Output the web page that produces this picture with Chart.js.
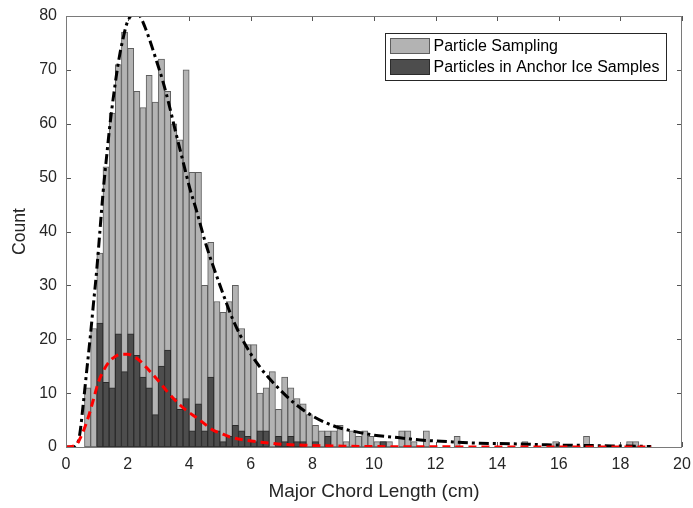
<!DOCTYPE html>
<html>
<head>
<meta charset="utf-8">
<script src="https://cdn.jsdelivr.net/npm/chart.js@4.4.1/dist/chart.umd.min.js"></script>
<style>
  html, body { margin: 0; padding: 0; background: #fff; }
  #wrap { width: 693px; height: 508px; }
</style>
</head>
<body>
<div id="wrap"><canvas id="histChart" width="693" height="508"></canvas></div>
<script>
// histogram bins (centres, cm) and counts
const binCenters = [
  0.7, 0.9, 1.1, 1.3, 1.5, 1.7, 1.9, 2.1, 2.3, 2.5,
  2.7, 2.9, 3.1, 3.3, 3.5, 3.7, 3.9, 4.1, 4.3, 4.5,
  4.7, 4.9, 5.1, 5.3, 5.5, 5.7, 5.9, 6.1, 6.3, 6.5,
  6.7, 6.9, 7.1, 7.3, 7.5, 7.7, 7.9, 8.1, 8.3, 8.5,
  8.7, 8.9, 9.1, 9.3, 9.5, 9.7, 9.9, 10.1, 10.3, 10.5,
  10.7, 10.9, 11.1, 11.3, 11.5, 11.7, 11.9, 12.1, 12.3, 12.5,
  12.7, 12.9, 13.1, 13.3, 13.5, 13.7, 13.9, 14.1, 14.3, 14.5,
  14.7, 14.9, 15.1, 15.3, 15.5, 15.7, 15.9, 16.1, 16.3, 16.5,
  16.7, 16.9, 17.1, 17.3, 17.5, 17.7, 17.9, 18.1, 18.3, 18.5
];
const samplingCounts = [
  11, 22, 36, 52, 62, 71, 77, 74, 66, 63,
  69, 64, 72, 66, 60, 57, 70, 51, 51, 30,
  38, 27, 25, 27, 30, 22, 19, 19, 10, 11,
  14, 7, 13, 11, 9, 8, 6, 4, 3, 3,
  3, 4, 1, 3, 2, 3, 2, 1, 1, 1,
  0, 3, 3, 1, 0, 3, 0, 0, 0, 0,
  2, 0, 0, 0, 0, 0, 0, 0, 0, 0,
  0, 1, 0, 0, 0, 0, 1, 0, 0, 0,
  0, 2, 0, 0, 0, 0, 0, 0, 1, 1
];
const anchorIceCounts = [
  0, 0, 23, 12, 11, 21, 14, 21, 17, 13,
  11, 6, 15, 18, 9, 7, 9, 3, 8, 3,
  13, 3, 1, 2, 4, 3, 2, 1, 3, 3,
  0, 2, 1, 2, 1, 1, 0, 1, 0, 2,
  0, 0, 0, 0, 0, 0, 0, 0, 1, 0,
  0, 0, 0, 0, 0, 0, 0, 0, 0, 0,
  0, 0, 0, 0, 0, 0, 0, 0, 0, 0,
  0, 0, 0, 0, 0, 0, 0, 0, 0, 0,
  0, 0, 0, 0, 0, 0, 0, 0, 0, 0
];

// fitted curves, points
const samplingFitX = [0, 0.2, 0.35, 0.45, 0.56, 0.67, 0.78, 0.89, 1.0, 1.1,
  1.2, 1.32, 1.43, 1.54, 1.65, 1.75, 1.86, 1.97, 2.1, 2.2,
  2.3, 2.4, 2.56, 2.75, 2.93, 3.15, 3.37, 3.58, 3.8, 4.02,
  4.23, 4.55, 5.0, 5.43, 5.87, 6.3, 6.75, 7.4, 8.05, 8.7,
  9.35, 10.0, 10.84, 11.5, 12.36, 13.44, 14.5, 15.6, 16.7, 17.8, 19.0];
const samplingFitY = [0, 0, 0.4, 2.5, 8, 14, 20, 26.5, 33, 40,
  47, 54, 60, 65, 69.5, 73, 76, 78.5, 80, 80.5,
  80.5, 80, 78, 75, 71.8, 67.8, 63, 58, 53, 48,
  44, 37.5, 30, 23.5, 18.5, 14.8, 11.8, 8.2, 5.6, 3.9,
  2.9, 2.2, 1.7, 1.3, 1, 0.7, 0.6, 0.4, 0.3, 0.2, 0.1];
const anchorFitX = [0, 0.2, 0.35, 0.45, 0.6, 0.75, 0.9, 1.05, 1.2, 1.4,
  1.6, 1.8, 2.0, 2.2, 2.4, 2.7, 3.0, 3.3, 3.7, 4.0,
  4.25, 4.5, 4.75, 5.0, 5.3, 5.9, 6.5, 7.0, 8.0, 9.0,
  10.0, 12.0, 15.0, 19.0];
const anchorFitY = [0, 0.1, 0.5, 1.5, 3.5, 6, 9, 12, 14, 15.8,
  16.8, 17.2, 17.2, 16.8, 16, 14.2, 12.3, 10.2, 7.8, 6.4,
  5.4, 4.3, 3.2, 2.6, 1.9, 1.2, 0.8, 0.5, 0.3, 0.15,
  0.08, 0.03, 0.01, 0];

const xTicks = [0, 2, 4, 6, 8, 10, 12, 14, 16, 18, 20];
const yTicks = [0, 10, 20, 30, 40, 50, 60, 70, 80];
const legendLabels = ['Particle Sampling', 'Particles in Anchor Ice Samples'];

const FONT = '"Liberation Sans", Arial, Helvetica, sans-serif';
const TEXT = '#262626';
const LIGHT = '#b3b3b3', LIGHT_EDGE = '#5e5e5e';
const DARK = '#4d4d4d', DARK_EDGE = '#2b2b2b';

function toPoints(xs, ys) {
  return xs.map(function(x, i) { return { x: x, y: ys[i] }; });
}

// MATLAB-like box, inward ticks and a boxed legend inside the axes
const matlabAxes = {
  id: 'matlabAxes',
  beforeDatasetsDraw(chart) {
    const { ctx, chartArea: a, scales: { x, y } } = chart;
    ctx.save();
    ctx.strokeStyle = '#555';
    ctx.lineWidth = 1;
    ctx.beginPath();
    xTicks.forEach(function(v) {
      const px = Math.round(x.getPixelForValue(v)) + 0.5;
      ctx.moveTo(px, a.bottom); ctx.lineTo(px, a.bottom - 5);
      ctx.moveTo(px, a.top); ctx.lineTo(px, a.top + 5);
    });
    yTicks.forEach(function(v) {
      const py = Math.round(y.getPixelForValue(v)) + 0.5;
      ctx.moveTo(a.left, py); ctx.lineTo(a.left + 5, py);
      ctx.moveTo(a.right, py); ctx.lineTo(a.right - 5, py);
    });
    ctx.stroke();
    ctx.restore();
  },
  afterDraw(chart) {
    const { ctx, chartArea: a } = chart;
    ctx.save();
    ctx.strokeStyle = '#7a7a7a';
    ctx.lineWidth = 1;
    ctx.strokeRect(Math.round(a.left) + 0.5, Math.round(a.top) + 0.5,
      Math.round(a.right - a.left) - 1, Math.round(a.bottom - a.top));

    // legend
    const bx = Math.round(a.right) - 297 + 0.5, by = Math.round(a.top) + 17 + 0.5;
    ctx.fillStyle = '#fff';
    ctx.fillRect(bx, by, 281, 47);
    ctx.strokeStyle = '#262626';
    ctx.strokeRect(bx, by, 281, 47);
    const swatches = [[LIGHT, LIGHT_EDGE], [DARK, DARK_EDGE]];
    ctx.font = '16px ' + FONT;
    ctx.textBaseline = 'middle';
    legendLabels.forEach(function(label, i) {
      const sy = by + 5 + i * 21;
      ctx.fillStyle = swatches[i][0];
      ctx.fillRect(bx + 5, sy, 39, 15);
      ctx.strokeStyle = swatches[i][1];
      ctx.strokeRect(bx + 5, sy, 39, 15);
      ctx.fillStyle = '#000';
      ctx.fillText(label, bx + 48, sy + 8);
    });
    ctx.restore();
  }
};

const ctx = document.getElementById('histChart').getContext('2d');
new Chart(ctx, {
  type: 'bar',
  data: {
    datasets: [
      {
        type: 'line',
        label: 'Anchor ice fit',
        data: toPoints(anchorFitX, anchorFitY),
        borderColor: '#ff0000',
        borderWidth: 3,
        borderDash: [8, 5],
        pointRadius: 0,
        cubicInterpolationMode: 'monotone',
        fill: false,
        order: 0
      },
      {
        type: 'line',
        label: 'Sampling fit',
        data: toPoints(samplingFitX, samplingFitY),
        borderColor: '#000000',
        borderWidth: 3,
        borderDash: [10, 4, 3, 4],
        pointRadius: 0,
        cubicInterpolationMode: 'monotone',
        fill: false,
        order: 1
      },
      {
        label: legendLabels[1],
        data: toPoints(binCenters, anchorIceCounts),
        backgroundColor: DARK,
        borderColor: DARK_EDGE,
        borderWidth: 1,
        borderSkipped: false,
        grouped: false,
        barPercentage: 1,
        categoryPercentage: 1,
        order: 2
      },
      {
        label: legendLabels[0],
        data: toPoints(binCenters, samplingCounts),
        backgroundColor: LIGHT,
        borderColor: LIGHT_EDGE,
        borderWidth: 1,
        borderSkipped: false,
        grouped: false,
        barPercentage: 1,
        categoryPercentage: 1,
        order: 3
      }
    ]
  },
  options: {
    responsive: false,
    animation: false,
    layout: { padding: { top: 16, right: 11, left: 0, bottom: 0 } },
    plugins: {
      legend: { display: false },
      tooltip: { enabled: false }
    },
    scales: {
      x: {
        type: 'linear',
        min: 0,
        max: 20,
        offset: false,
        grid: { display: false, drawTicks: false, offset: false },
        border: { display: false },
        afterBuildTicks: function(scale) {
          scale.ticks = xTicks.map(function(v) { return { value: v }; });
        },
        afterFit: function(scale) {
          scale.height = 61;
          scale.paddingLeft = 0;
          scale.paddingRight = 0;
        },
        ticks: {
          padding: 8,
          color: TEXT,
          maxRotation: 0,
          font: { family: FONT, size: 16 }
        },
        title: {
          display: true,
          text: 'Major Chord Length (cm)',
          color: TEXT,
          font: { family: FONT, size: 19 },
          padding: { top: 0, bottom: 5 }
        }
      },
      y: {
        min: 0,
        max: 80,
        grid: { display: false, drawTicks: false },
        border: { display: false },
        afterBuildTicks: function(scale) {
          scale.ticks = yTicks.map(function(v) { return { value: v }; });
        },
        afterFit: function(scale) {
          scale.width = 66;
          scale.paddingTop = 0;
          scale.paddingBottom = 0;
        },
        ticks: {
          padding: 9,
          color: TEXT,
          font: { family: FONT, size: 16 }
        },
        title: {
          display: true,
          text: 'Count',
          color: TEXT,
          font: { family: FONT, size: 17.6 },
          padding: { top: 10, bottom: 0 }
        }
      }
    }
  },
  plugins: [matlabAxes]
});
</script>
</body>
</html>
